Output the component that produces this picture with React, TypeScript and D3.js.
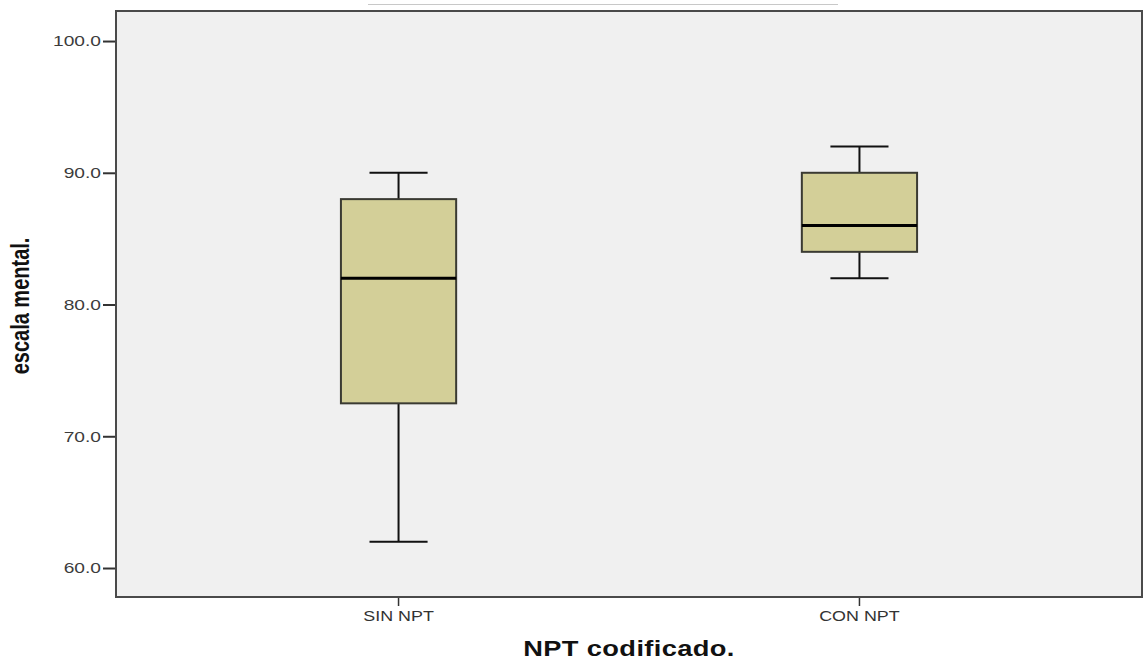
import { useEffect, useRef } from 'react';
import * as d3 from 'd3';

// datos
const groups = ['SIN NPT', 'CON NPT'];
const whiskerLow = [62, 82];
const q1 = [72.5, 84];
const median = [82, 86];
const q3 = [88, 90];
const whiskerHigh = [90, 92];
const yTicks = [60, 70, 80, 90, 100];

export default function App() {
  const svgRef = useRef<SVGSVGElement>(null);
  const width = 1144;
  const height = 660;

  useEffect(() => {
    const root = d3.select(svgRef.current);
    root.selectAll('*').remove();

    const margin = { top: 11, right: 2, bottom: 63, left: 116 };
    const innerWidth = width - margin.left - margin.right;
    const innerHeight = height - margin.top - margin.bottom;
    const stretch = 1.28; // la imagen original está estirada en horizontal

    // linea gris tenue arriba
    root.append('line')
      .attr('x1', 368).attr('x2', 838)
      .attr('y1', 4.5).attr('y2', 4.5)
      .attr('stroke', '#c8c8c8')
      .attr('stroke-width', 1);

    const svg = root.append('g')
      .attr('transform', `translate(${margin.left},${margin.top})`);

    const x = d3.scaleBand()
      .domain(groups)
      .range([0, innerWidth])
      .paddingInner(0)
      .paddingOuter(0.113);

    const y = d3.scaleLinear()
      .domain([57.8, 102.28])
      .range([innerHeight, 0]);

    // fondo
    svg.append('rect')
      .attr('width', innerWidth)
      .attr('height', innerHeight)
      .attr('fill', '#f0f0f0');

    // eje Y
    const yAxis = svg.append('g')
      .call(d3.axisLeft(y).tickValues(yTicks).tickSize(13).tickFormat(d3.format('.1f')));
    yAxis.select('.domain').remove();
    yAxis.selectAll('line').attr('stroke', '#333').attr('stroke-width', 2);
    yAxis.selectAll('text')
      .attr('x', 0)
      .attr('transform', `translate(-15,0) scale(${stretch},1)`)
      .attr('font-family', 'Liberation Sans, Arial, sans-serif')
      .attr('font-size', '15px')
      .attr('fill', '#3c3c3c');

    // eje X
    const xAxis = svg.append('g')
      .attr('transform', `translate(0,${innerHeight})`)
      .call(d3.axisBottom(x).tickSize(9).tickPadding(5));
    xAxis.select('.domain').remove();
    xAxis.selectAll('line').attr('stroke', '#333').attr('stroke-width', 1.5);
    xAxis.selectAll('text')
      .attr('transform', `scale(${stretch},1)`)
      .attr('font-family', 'Liberation Sans, Arial, sans-serif')
      .attr('font-size', '14px')
      .attr('fill', '#333');

    // cajas
    const boxW = x.bandwidth() * 0.25;
    const capW = x.bandwidth() * 0.063;
    const data = groups.map((g, i) => ({
      g, lo: whiskerLow[i], q1: q1[i], med: median[i], q3: q3[i], hi: whiskerHigh[i],
    }));

    const box = svg.selectAll('g.box')
      .data(data)
      .enter()
      .append('g')
      .attr('class', 'box')
      .attr('transform', d => `translate(${(x(d.g) as number) + x.bandwidth() / 2},0)`);

    box.append('line')
      .attr('x1', 0).attr('x2', 0)
      .attr('y1', d => y(d.hi)).attr('y2', d => y(d.q3))
      .attr('stroke', '#111').attr('stroke-width', 2);
    box.append('line')
      .attr('x1', 0).attr('x2', 0)
      .attr('y1', d => y(d.q1)).attr('y2', d => y(d.lo))
      .attr('stroke', '#111').attr('stroke-width', 2);
    box.append('line')
      .attr('x1', -capW).attr('x2', capW)
      .attr('y1', d => y(d.hi)).attr('y2', d => y(d.hi))
      .attr('stroke', '#111').attr('stroke-width', 2);
    box.append('line')
      .attr('x1', -capW).attr('x2', capW)
      .attr('y1', d => y(d.lo)).attr('y2', d => y(d.lo))
      .attr('stroke', '#111').attr('stroke-width', 2);

    box.append('rect')
      .attr('x', -boxW / 2)
      .attr('width', boxW)
      .attr('y', d => y(d.q3))
      .attr('height', d => y(d.q1) - y(d.q3))
      .attr('fill', '#d3cf98')
      .attr('stroke', '#3a3a32')
      .attr('stroke-width', 2);

    box.append('line')
      .attr('x1', -boxW / 2).attr('x2', boxW / 2)
      .attr('y1', d => y(d.med)).attr('y2', d => y(d.med))
      .attr('stroke', '#000').attr('stroke-width', 3);

    // marco
    svg.append('path')
      .attr('d', `M0,${innerHeight}V0H${innerWidth}V${innerHeight}Z`)
      .attr('fill', 'none')
      .attr('stroke', '#4a4a4a')
      .attr('stroke-width', 2);

    // títulos
    root.append('text')
      .attr('transform', `translate(29,306) rotate(-90) scale(1,${stretch})`)
      .attr('text-anchor', 'middle')
      .attr('font-family', 'Liberation Sans, Arial, sans-serif')
      .attr('font-weight', 'bold')
      .attr('font-size', '20px')
      .attr('fill', '#111')
      .text('escala mental.');

    root.append('text')
      .attr('transform', `translate(${margin.left + innerWidth / 2},656) scale(1.24,1)`)
      .attr('text-anchor', 'middle')
      .attr('font-family', 'Liberation Sans, Arial, sans-serif')
      .attr('font-weight', 'bold')
      .attr('font-size', '22px')
      .attr('letter-spacing', '0.3px')
      .attr('fill', '#111')
      .text('NPT codificado.');
  }, []);

  return (
    <div style={{ position: 'fixed', left: 0, top: 0 }}>
      <svg ref={svgRef} width={width} height={height} style={{ display: 'block', background: '#fff' }}></svg>
    </div>
  );
}
